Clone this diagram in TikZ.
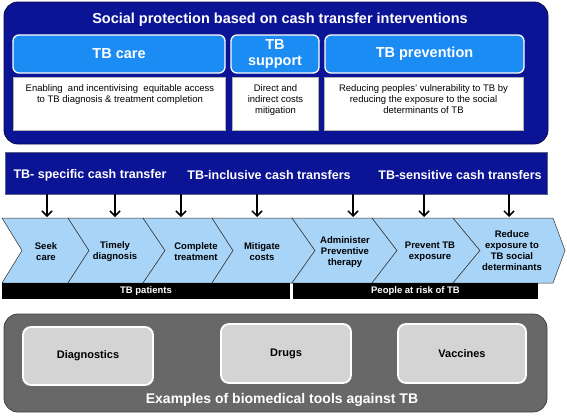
\documentclass[tikz,border=0pt]{standalone}
\usepackage{fontspec}
\setmainfont{Liberation Sans}
\usetikzlibrary{arrows.meta,calc}
\definecolor{navy}{RGB}{12,20,150}
\definecolor{navyline}{RGB}{10,10,70}
\definecolor{skyb}{RGB}{28,140,245}
\definecolor{chev}{RGB}{168,212,248}
\definecolor{dgray}{RGB}{104,104,104}
\definecolor{lgray}{RGB}{212,212,212}
\tikzset{
  box/.style={inner sep=0pt, outer sep=0pt},
  topbox/.style={box, fill=navy, draw=navyline, line width=0.8pt, rounded corners=14pt},
  bluebox/.style={box, fill=skyb, draw=white, line width=1.3pt, rounded corners=6pt,
     text=white, font=\fontsize{14.5}{16}\selectfont\bfseries, align=center},
  whitebox/.style={box, fill=white, draw=gray!60, line width=0.4pt},
  desc/.style={inner sep=0pt, align=center, font=\fontsize{9.5}{11}\selectfont, anchor=north},
  band/.style={box, fill=navy, draw=gray!70!navy, line width=0.6pt},
  bandtext/.style={inner sep=0pt, text=white, font=\fontsize{12.5}{14}\selectfont\bfseries},
  chevshape/.style={fill=chev, draw=black!80, line width=0.5pt},
  chevtext/.style={inner sep=0pt, align=center, font=\fontsize{9.5}{11}\selectfont\bfseries},
  blackbar/.style={box, fill=black, text=white, font=\fontsize{9.5}{11}\selectfont\bfseries},
  graybox/.style={box, fill=dgray, draw=black!75, line width=0.8pt, rounded corners=14pt},
  toolbox/.style={box, fill=lgray, draw=white, line width=1.8pt, rounded corners=8pt,
     font=\fontsize{11}{13}\selectfont\bfseries},
  arr/.style={line width=1.5pt, -{Straight Barb[length=5pt,width=10pt]}},
}
\newcommand{\mychev}[4]{%
  \path[chevshape] (#1,218) -- (#3,218) -- (#4,250.5) -- (#3,283) -- (#1,283) -- (#2,250.5) -- cycle;}
\begin{document}
\begin{tikzpicture}[x=1pt,y=-1pt]
\useasboundingbox (0,0) rectangle (567,415);

% top panel
\node[topbox, minimum width=544pt, minimum height=142pt] (top) at (276,73) {};
\node[inner sep=0pt, text=white, font=\fontsize{14.5}{16}\selectfont\bfseries] (title) at (280,20)
  {Social protection based on cash transfer interventions};

\node[bluebox, minimum width=212pt, minimum height=38pt] (care) at (119,54) {TB care};
\node[bluebox, minimum width=88pt, minimum height=38pt] (support) at (275,54) {TB\\support};
\node[bluebox, minimum width=199pt, minimum height=38pt] (prev) at (424.5,54) {TB prevention};

\node[whitebox, minimum width=212pt, minimum height=53pt] (cared) at (119,103.5) {};
\node[whitebox, minimum width=86pt, minimum height=53pt] (suppd) at (275.5,103.5) {};
\node[whitebox, minimum width=199pt, minimum height=53pt] (prevd) at (423.5,103.5) {};

\node[desc] (caret) at ($(cared.north)+(1,7.5)$)
  {Enabling\ \ and incentivising\ \ equitable access\\to TB diagnosis \& treatment completion};
\node[desc] (suppt) at ($(suppd.north)+(0,7.5)$)
  {Direct and\\indirect costs\\mitigation};
\node[desc] (prevt) at ($(prevd.north)+(0,7.5)$)
  {Reducing peoples’ vulnerability to TB by\\reducing the exposure to the social\\determinants of TB};

% band
\node[band, minimum width=542pt, minimum height=42pt] (band) at (276,173) {};
\node[bandtext] (bt1) at (90,175) {TB- specific cash transfer};
\node[bandtext] (bt2) at (269,175) {TB-inclusive cash transfers};
\node[bandtext] (bt3) at (460,175) {TB-sensitive cash transfers};

% chevrons
\mychev{2}{22}{68}{89}
\mychev{68}{89}{143}{165}
\mychev{143}{165}{212}{233}
\mychev{212}{233}{292}{315}
\mychev{292}{315}{372}{397}
\mychev{372}{397}{453}{480}
\mychev{453}{480}{553}{565}

\node[chevtext] (c1) at (46,251.5) {Seek\\care};
\node[chevtext] (c2) at (115,251.5) {Timely\\diagnosis};
\node[chevtext] (c3) at (196,251.5) {Complete\\treatment};
\node[chevtext] (c4) at (262,251.5) {Mitigate\\costs};
\node[chevtext] (c5) at (345,252) {Administer\\Preventive\\therapy};
\node[chevtext] (c6) at (430,251.5) {Prevent TB\\exposure};
\node[chevtext] (c7) at (512,251) {Reduce\\exposure to\\TB social\\determinants};

% arrows
\foreach \i/\x in {1/47,2/115,3/181,4/257,5/353,6/424,7/509}{
  \coordinate (a\i) at (\x,217);
  \draw[arr] (band.south -| a\i) -- (a\i);
}

% black bars
\node[blackbar, minimum width=288pt, minimum height=16pt] (pat) at (146,291) {TB patients};
\node[blackbar, minimum width=245pt, minimum height=16pt] (risk) at (415.5,291) {People at risk of TB};

% bottom panel
\node[graybox, minimum width=543pt, minimum height=98pt] (tools) at (275.5,363) {};
\node[toolbox, minimum width=130pt, minimum height=58pt] (diag) at (88,356) {Diagnostics};
\node[toolbox, minimum width=130pt, minimum height=59pt] (drugs) at (286,353.5) {Drugs};
\node[toolbox, minimum width=128pt, minimum height=59pt] (vacc) at (462,353.5) {Vaccines};
\node[inner sep=0pt, text=white, font=\fontsize{14}{16}\selectfont\bfseries] (tooltitle) at (282,400)
  {Examples of biomedical tools against TB};
\end{tikzpicture}
\end{document}
